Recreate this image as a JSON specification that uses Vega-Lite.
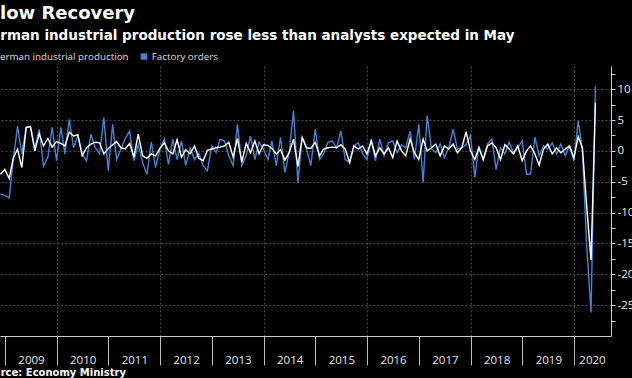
{
  "$schema": "https://vega.github.io/schema/vega-lite/v6.json",
  "autosize": {"type": "none"},
  "padding": {"left": 0, "top": 66, "right": 21, "bottom": 42},
  "width": 611,
  "height": 270,
  "background": "#000000",
  "title": {
    "text": "Slow Recovery",
    "anchor": "start",
    "frame": "group",
    "dx": -13,
    "font": "DejaVu Sans",
    "fontSize": 18,
    "fontWeight": "bold",
    "color": "#ffffff",
    "offset": 6
  },
  "data": {
    "values": [
      {"d": "2008-11-30", "ip": -3.8, "fo": -7.0},
      {"d": "2008-12-31", "ip": -3.0, "fo": -7.2},
      {"d": "2009-01-31", "ip": -4.5, "fo": -7.6},
      {"d": "2009-02-28", "ip": -1.2, "fo": -1.5},
      {"d": "2009-03-31", "ip": 0.3, "fo": 4.0},
      {"d": "2009-04-30", "ip": -2.7, "fo": -0.5},
      {"d": "2009-05-31", "ip": 3.8, "fo": 3.8},
      {"d": "2009-06-30", "ip": 3.9, "fo": 4.0},
      {"d": "2009-07-31", "ip": 0.0, "fo": 0.5},
      {"d": "2009-08-31", "ip": 2.8, "fo": 3.5},
      {"d": "2009-09-30", "ip": 0.8, "fo": -2.5},
      {"d": "2009-10-31", "ip": 2.0, "fo": -1.0},
      {"d": "2009-11-30", "ip": 0.6, "fo": 3.8},
      {"d": "2009-12-31", "ip": 1.5, "fo": -1.6},
      {"d": "2010-01-31", "ip": 1.2, "fo": 3.8},
      {"d": "2010-02-28", "ip": 0.8, "fo": -0.5},
      {"d": "2010-03-31", "ip": 3.0, "fo": 5.1},
      {"d": "2010-04-30", "ip": 2.4, "fo": 0.5},
      {"d": "2010-05-31", "ip": 2.6, "fo": 2.5},
      {"d": "2010-06-30", "ip": -0.8, "fo": -0.5},
      {"d": "2010-07-31", "ip": 0.5, "fo": -1.6},
      {"d": "2010-08-31", "ip": 1.1, "fo": 2.7},
      {"d": "2010-09-30", "ip": 1.4, "fo": 0.5},
      {"d": "2010-10-31", "ip": 1.3, "fo": -0.5},
      {"d": "2010-11-30", "ip": -0.5, "fo": 5.4},
      {"d": "2010-12-31", "ip": 0.4, "fo": -3.2},
      {"d": "2011-01-31", "ip": 1.0, "fo": 4.3},
      {"d": "2011-02-28", "ip": 1.5, "fo": -1.4},
      {"d": "2011-03-31", "ip": 0.5, "fo": 0.3},
      {"d": "2011-04-30", "ip": 0.3, "fo": 2.0},
      {"d": "2011-05-31", "ip": 1.2, "fo": 3.2},
      {"d": "2011-06-30", "ip": -1.0, "fo": -1.6},
      {"d": "2011-07-31", "ip": 2.7, "fo": 1.0},
      {"d": "2011-08-31", "ip": -0.8, "fo": -1.9},
      {"d": "2011-09-30", "ip": -1.2, "fo": -3.8},
      {"d": "2011-10-31", "ip": -0.5, "fo": 1.4},
      {"d": "2011-11-30", "ip": -0.8, "fo": -2.7},
      {"d": "2011-12-31", "ip": 0.4, "fo": 0.3},
      {"d": "2012-01-31", "ip": 1.3, "fo": 1.9},
      {"d": "2012-02-29", "ip": 0.0, "fo": -2.2},
      {"d": "2012-03-31", "ip": -0.5, "fo": 1.9},
      {"d": "2012-04-30", "ip": 1.8, "fo": -1.4},
      {"d": "2012-05-31", "ip": -1.0, "fo": 1.6},
      {"d": "2012-06-30", "ip": 0.2, "fo": -2.4},
      {"d": "2012-07-31", "ip": -0.5, "fo": 0.5},
      {"d": "2012-08-31", "ip": 0.8, "fo": -1.4},
      {"d": "2012-09-30", "ip": -1.2, "fo": -0.4},
      {"d": "2012-10-31", "ip": -1.6, "fo": -2.4},
      {"d": "2012-11-30", "ip": 0.1, "fo": -3.2},
      {"d": "2012-12-31", "ip": 0.3, "fo": 0.8},
      {"d": "2013-01-31", "ip": 0.5, "fo": -0.3},
      {"d": "2013-02-28", "ip": 0.6, "fo": 1.9},
      {"d": "2013-03-31", "ip": 0.8, "fo": 1.6},
      {"d": "2013-04-30", "ip": 1.4, "fo": -0.8},
      {"d": "2013-05-31", "ip": -1.0, "fo": -2.4},
      {"d": "2013-06-30", "ip": 2.0, "fo": 4.3},
      {"d": "2013-07-31", "ip": -1.8, "fo": -2.4},
      {"d": "2013-08-31", "ip": 1.2, "fo": -0.8},
      {"d": "2013-09-30", "ip": -0.3, "fo": 2.4},
      {"d": "2013-10-31", "ip": 1.6, "fo": -1.4},
      {"d": "2013-11-30", "ip": -0.5, "fo": 1.4},
      {"d": "2013-12-31", "ip": 1.0, "fo": 0.3},
      {"d": "2014-01-31", "ip": 0.9, "fo": -1.4},
      {"d": "2014-02-28", "ip": 0.4, "fo": 1.6},
      {"d": "2014-03-31", "ip": -0.5, "fo": -2.4},
      {"d": "2014-04-30", "ip": 0.2, "fo": 2.2},
      {"d": "2014-05-31", "ip": -1.5, "fo": -3.5},
      {"d": "2014-06-30", "ip": -0.3, "fo": -0.3},
      {"d": "2014-07-31", "ip": 1.9, "fo": 6.5},
      {"d": "2014-08-31", "ip": -2.5, "fo": -5.1},
      {"d": "2014-09-30", "ip": 2.2, "fo": 2.2},
      {"d": "2014-10-31", "ip": 0.5, "fo": 0.3},
      {"d": "2014-11-30", "ip": 0.4, "fo": -2.4},
      {"d": "2014-12-31", "ip": 1.4, "fo": 3.5},
      {"d": "2015-01-31", "ip": -0.8, "fo": -1.4},
      {"d": "2015-02-28", "ip": 0.3, "fo": -0.5},
      {"d": "2015-03-31", "ip": 0.5, "fo": 1.4},
      {"d": "2015-04-30", "ip": 0.6, "fo": 1.6},
      {"d": "2015-05-31", "ip": 0.5, "fo": 0.5},
      {"d": "2015-06-30", "ip": 1.0, "fo": 3.2},
      {"d": "2015-07-31", "ip": 0.3, "fo": -1.4},
      {"d": "2015-08-31", "ip": -1.9, "fo": -1.9},
      {"d": "2015-09-30", "ip": 0.8, "fo": 0.8},
      {"d": "2015-10-31", "ip": 0.3, "fo": 1.3},
      {"d": "2015-11-30", "ip": 0.8, "fo": -0.4},
      {"d": "2015-12-31", "ip": -0.5, "fo": -1.4},
      {"d": "2016-01-31", "ip": 1.6, "fo": 1.9},
      {"d": "2016-02-29", "ip": -0.8, "fo": -1.6},
      {"d": "2016-03-31", "ip": 0.5, "fo": 1.9},
      {"d": "2016-04-30", "ip": -0.5, "fo": -0.8},
      {"d": "2016-05-31", "ip": 0.5, "fo": 1.3},
      {"d": "2016-06-30", "ip": -1.1, "fo": 1.6},
      {"d": "2016-07-31", "ip": 1.6, "fo": -0.3},
      {"d": "2016-08-31", "ip": 0.0, "fo": 1.0},
      {"d": "2016-09-30", "ip": -0.8, "fo": 0.5},
      {"d": "2016-10-31", "ip": 1.9, "fo": 3.2},
      {"d": "2016-11-30", "ip": -0.3, "fo": -1.4},
      {"d": "2016-12-31", "ip": -1.4, "fo": 4.3},
      {"d": "2017-01-31", "ip": 1.9, "fo": -5.1},
      {"d": "2017-02-28", "ip": 0.0, "fo": 5.7},
      {"d": "2017-03-31", "ip": 0.5, "fo": 0.3},
      {"d": "2017-04-30", "ip": 1.1, "fo": -0.3},
      {"d": "2017-05-31", "ip": -0.8, "fo": 1.1},
      {"d": "2017-06-30", "ip": 0.8, "fo": -1.1},
      {"d": "2017-07-31", "ip": 0.3, "fo": 0.5},
      {"d": "2017-08-31", "ip": 1.1, "fo": 3.5},
      {"d": "2017-09-30", "ip": -0.3, "fo": 0.3},
      {"d": "2017-10-31", "ip": 0.5, "fo": 0.5},
      {"d": "2017-11-30", "ip": 3.1, "fo": 1.0},
      {"d": "2017-12-31", "ip": 0.0, "fo": 2.5},
      {"d": "2018-01-31", "ip": -1.4, "fo": -4.3},
      {"d": "2018-02-28", "ip": 0.5, "fo": 0.8},
      {"d": "2018-03-31", "ip": -1.4, "fo": -1.4},
      {"d": "2018-04-30", "ip": 0.8, "fo": 1.1},
      {"d": "2018-05-31", "ip": 1.3, "fo": 1.9},
      {"d": "2018-06-30", "ip": 0.5, "fo": -3.0},
      {"d": "2018-07-31", "ip": -1.4, "fo": 0.5},
      {"d": "2018-08-31", "ip": 1.0, "fo": -0.5},
      {"d": "2018-09-30", "ip": 0.3, "fo": 1.4},
      {"d": "2018-10-31", "ip": -0.5, "fo": -0.3},
      {"d": "2018-11-30", "ip": 0.8, "fo": 0.5},
      {"d": "2018-12-31", "ip": -1.6, "fo": 1.6},
      {"d": "2019-01-31", "ip": 0.0, "fo": -3.8},
      {"d": "2019-02-28", "ip": 0.8, "fo": -3.8},
      {"d": "2019-03-31", "ip": -0.5, "fo": 2.2},
      {"d": "2019-04-30", "ip": -2.3, "fo": -0.8},
      {"d": "2019-05-31", "ip": 0.3, "fo": 0.8},
      {"d": "2019-06-30", "ip": 1.1, "fo": 0.3},
      {"d": "2019-07-31", "ip": -0.5, "fo": 1.3},
      {"d": "2019-08-31", "ip": 0.5, "fo": -0.5},
      {"d": "2019-09-30", "ip": -0.3, "fo": 1.1},
      {"d": "2019-10-31", "ip": 0.3, "fo": -0.8},
      {"d": "2019-11-30", "ip": 0.8, "fo": 0.8},
      {"d": "2019-12-31", "ip": -1.1, "fo": -1.6},
      {"d": "2020-01-31", "ip": 2.3, "fo": 4.9},
      {"d": "2020-02-29", "ip": 0.5, "fo": 0.0},
      {"d": "2020-03-31", "ip": -9.2, "fo": -15.6},
      {"d": "2020-04-30", "ip": -17.7, "fo": -26.2},
      {"d": "2020-05-31", "ip": 7.8, "fo": 10.4}
    ]
  },
  "transform": [
    {"fold": ["fo", "ip"], "as": ["series", "value"]}
  ],
  "mark": {"type": "line", "strokeWidth": 1.4, "interpolate": "linear"},
  "encoding": {
    "x": {
      "field": "d",
      "type": "temporal",
      "scale": {"domain": ["2008-11-27", "2020-09-18"], "nice": false},
      "axis": {
        "title": "Source: Economy Ministry",
        "titleFont": "DejaVu Sans",
        "titleFontSize": 10,
        "titleFontWeight": "bold",
        "titleColor": "#ffffff",
        "titleAnchor": "start",
        "titleAlign": "left",
        "titleBaseline": "alphabetic",
        "titleX": -21,
        "titleY": 39,
        "format": "%Y",
        "tickCount": {"interval": "year", "step": 1},
        "labelOffset": {"condition": {"test": "year(datum.value) == 2020", "value": 18}, "value": 26},
        "labelFont": "Open Sans",
        "labelFontSize": 11.5,
        "labelColor": "#e6e6e6",
        "labelBaseline": "alphabetic",
        "labelPadding": -2,
        "labelFlush": false,
        "labelOverlap": false,
        "labelBound": false,
        "tickSize": 29,
        "tickColor": "#bbbbbb",
        "tickWidth": 1,
        "domainColor": "#cccccc",
        "domainWidth": 1,
        "grid": true,
        "gridColor": "#4a4a4a",
        "gridDash": [2, 2],
        "gridWidth": 1,
        "gridOpacity": {"condition": {"test": "year(datum.value) % 2 != 0", "value": 0}, "value": 1}
      }
    },
    "y": {
      "field": "value",
      "type": "quantitative",
      "scale": {"domain": [-30, 13.75], "nice": false, "zero": false},
      "axis": {
        "orient": "right",
        "title": null,
        "values": [-27.5, -25, -22.5, -20, -17.5, -15, -12.5, -10, -7.5, -5, -2.5, 0, 2.5, 5, 7.5, 10, 12.5],
        "labelExpr": "datum.value % 5 === 0 ? '' + datum.value : ''",
        "labelFont": "Open Sans",
        "labelFontSize": 11.5,
        "labelColor": "#e6e6e6",
        "labelPadding": 2,
        "tickSize": 4,
        "tickColor": "#cccccc",
        "domainColor": "#cccccc",
        "grid": true,
        "gridColor": "#4a4a4a",
        "gridDash": [2, 2],
        "gridOpacity": {"condition": {"test": "datum.value % 5 !== 0", "value": 0}, "value": 1}
      }
    },
    "color": {
      "field": "series",
      "type": "nominal",
      "scale": {"domain": ["ip", "fo"], "range": ["#ffffff", "#4283d8"]},
      "legend": {
        "title": "German industrial production rose less than analysts expected in May",
        "titleFont": "DejaVu Sans",
        "titleFontSize": 13.5,
        "titleFontWeight": "bold",
        "titleColor": "#ffffff",
        "titleLimit": 800,
        "titlePadding": 9,
        "orient": "none",
        "legendX": -20,
        "legendY": -37,
        "direction": "horizontal",
        "padding": 0,
        "symbolType": "square",
        "symbolSize": 42,
        "symbolStrokeWidth": 0,
        "labelFont": "Open Sans",
        "labelFontSize": 9.8,
        "labelColor": "#dddddd",
        "labelOffset": 3,
        "labelLimit": 300,
        "columnPadding": 10,
        "labelExpr": "datum.value == 'ip' ? 'German industrial production' : 'Factory orders'",
        "encode": {
          "symbols": {"update": {"fill": {"scale": "color", "field": "value"}, "strokeWidth": {"value": 0}}}
        }
      }
    }
  },
  "config": {
    "view": {"stroke": null}
  }
}
